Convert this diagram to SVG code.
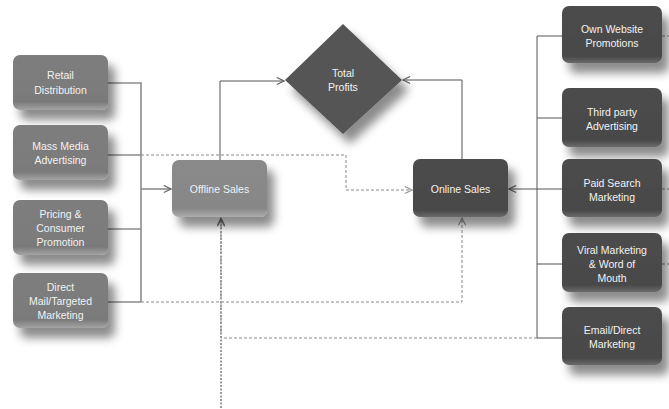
<svg xmlns="http://www.w3.org/2000/svg" width="669" height="409" viewBox="0 0 669 409">
  <defs>
    <filter id="shadow" x="-30%" y="-30%" width="180%" height="190%">
      <feDropShadow dx="7" dy="10" stdDeviation="5" flood-color="#000" flood-opacity="0.45"/>
    </filter>
    <linearGradient id="gLeft" x1="0" y1="0" x2="0" y2="1">
      <stop offset="0" stop-color="#7e7e7e"/>
      <stop offset="0.85" stop-color="#7a7a7a"/>
      <stop offset="1" stop-color="#a4a4a4"/>
    </linearGradient>
    <linearGradient id="gMid" x1="0" y1="0" x2="0" y2="1">
      <stop offset="0" stop-color="#8a8a8a"/>
      <stop offset="0.85" stop-color="#878787"/>
      <stop offset="1" stop-color="#adadad"/>
    </linearGradient>
    <linearGradient id="gDark" x1="0" y1="0" x2="0" y2="1">
      <stop offset="0" stop-color="#4c4c4c"/>
      <stop offset="0.88" stop-color="#494949"/>
      <stop offset="1" stop-color="#6a6a6a"/>
    </linearGradient>
    <marker id="arrow" viewBox="0 0 10 10" refX="9" refY="5" markerWidth="9" markerHeight="9" markerUnits="userSpaceOnUse" orient="auto">
      <path d="M1,1 L9,5 L1,9" fill="none" stroke="#666" stroke-width="1.3"/>
    </marker>
    <marker id="arrowLight" viewBox="0 0 10 10" refX="9" refY="5" markerWidth="9" markerHeight="9" markerUnits="userSpaceOnUse" orient="auto">
      <path d="M1,1 L9,5 L1,9" fill="none" stroke="#999" stroke-width="1.3"/>
    </marker>
  </defs>
  <style>
    .node { filter: url(#shadow); }
    .left { fill: url(#gLeft); }
    .mid { fill: url(#gMid); }
    .dark { fill: url(#gDark); }
    .label { font-family: "Liberation Sans", Arial, sans-serif; font-size: 10.5px; fill: #f2f2f2; text-anchor: middle; }
    .solid { fill: none; stroke: #555; stroke-width: 1; }
    .bus { fill: none; stroke: #8c8c8c; stroke-width: 1.6; }
    .dash { fill: none; stroke: #888; stroke-width: 1; stroke-dasharray: 3 2; }
    .dashHeavy { fill: none; stroke: #9a9a9a; stroke-width: 2; stroke-dasharray: 2 1.5; }
  </style>

  <rect width="669" height="409" fill="#ffffff"/>

  <!-- connectors -->
  <g id="connectors">
    <!-- left bus into Offline Sales -->
    <path class="bus" d="M108,83 H141 V302 M108,155 H141 M108,229 H141 M108,302 H141"/>
    <path class="bus" d="M141,189 H171" marker-end="url(#arrow)"/>
    <!-- Offline Sales to Total Profits -->
    <path class="solid" d="M220,160 V81 H284" marker-end="url(#arrow)"/>
    <!-- Online Sales to Total Profits -->
    <path class="solid" d="M462,159 V80 H403" marker-end="url(#arrow)"/>
    <!-- right bus into Online Sales -->
    <path class="solid" stroke="#666" stroke-width="1.4" d="M562,36 H537 V338 H562 M562,118 H537 M562,264 H537"/>
    <path class="solid" stroke="#666" stroke-width="1.4" d="M562,189 H509" marker-end="url(#arrow)"/>
    <!-- Mass Media to Online Sales -->
    <path class="dash" d="M141,155 H346 V190 H412" marker-end="url(#arrowLight)"/>
    <!-- Direct Mail to Online Sales -->
    <path class="dash" d="M141,302 H462 V218" marker-end="url(#arrowLight)"/>
    <!-- Email/Direct Marketing to Offline Sales -->
    <path class="dash" d="M537,338 H221 V218" marker-end="url(#arrowLight)"/>
    <path class="dashHeavy" d="M221,408 V219" marker-end="url(#arrow)"/>
    <!-- short stubs on the right edge -->
    <path class="dash" d="M662,36 H669 M662,189 H669 M662,264 H669"/>
  </g>

  <!-- left column -->
  <g id="retail-distribution">
    <rect class="node left" x="13" y="55" width="95" height="55" rx="7"/>
    <text class="label" x="60.5" y="79">Retail</text>
    <text class="label" x="60.5" y="94">Distribution</text>
  </g>
  <g id="mass-media-advertising">
    <rect class="node left" x="13" y="125" width="95" height="55" rx="7"/>
    <text class="label" x="60.5" y="150">Mass Media</text>
    <text class="label" x="60.5" y="164">Advertising</text>
  </g>
  <g id="pricing-consumer-promotion">
    <rect class="node left" x="13" y="200" width="95" height="55" rx="7"/>
    <text class="label" x="60.5" y="218">Pricing &amp;</text>
    <text class="label" x="60.5" y="232">Consumer</text>
    <text class="label" x="60.5" y="246">Promotion</text>
  </g>
  <g id="direct-mail">
    <rect class="node left" x="13" y="273" width="95" height="55" rx="7"/>
    <text class="label" x="60.5" y="291">Direct</text>
    <text class="label" x="60.5" y="305">Mail/Targeted</text>
    <text class="label" x="60.5" y="319">Marketing</text>
  </g>

  <!-- centre -->
  <g id="offline-sales">
    <rect class="node mid" x="172" y="160" width="95" height="57" rx="7"/>
    <text class="label" x="219.5" y="193">Offline Sales</text>
  </g>
  <g id="total-profits">
    <polygon class="node" fill="#545454" points="343,24 402,80 343,134 285,80"/>
    <text class="label" x="343" y="77">Total</text>
    <text class="label" x="343" y="91">Profits</text>
  </g>
  <g id="online-sales">
    <rect class="node dark" x="413" y="159" width="95" height="58" rx="7"/>
    <text class="label" x="460.5" y="193">Online Sales</text>
  </g>

  <!-- right column -->
  <g id="own-website-promotions">
    <rect class="node dark" x="562" y="6" width="100" height="57" rx="7"/>
    <text class="label" x="612" y="33">Own Website</text>
    <text class="label" x="612" y="47">Promotions</text>
  </g>
  <g id="third-party-advertising">
    <rect class="node dark" x="562" y="88" width="100" height="59" rx="7"/>
    <text class="label" x="612" y="116">Third party</text>
    <text class="label" x="612" y="130">Advertising</text>
  </g>
  <g id="paid-search-marketing">
    <rect class="node dark" x="562" y="159" width="100" height="58" rx="7"/>
    <text class="label" x="612" y="187">Paid Search</text>
    <text class="label" x="612" y="201">Marketing</text>
  </g>
  <g id="viral-marketing">
    <rect class="node dark" x="562" y="233" width="100" height="59" rx="7"/>
    <text class="label" x="612" y="254">Viral Marketing</text>
    <text class="label" x="612" y="268">&amp; Word of</text>
    <text class="label" x="612" y="282">Mouth</text>
  </g>
  <g id="email-direct-marketing">
    <rect class="node dark" x="562" y="307" width="100" height="58" rx="7"/>
    <text class="label" x="612" y="334">Email/Direct</text>
    <text class="label" x="612" y="348">Marketing</text>
  </g>
</svg>
